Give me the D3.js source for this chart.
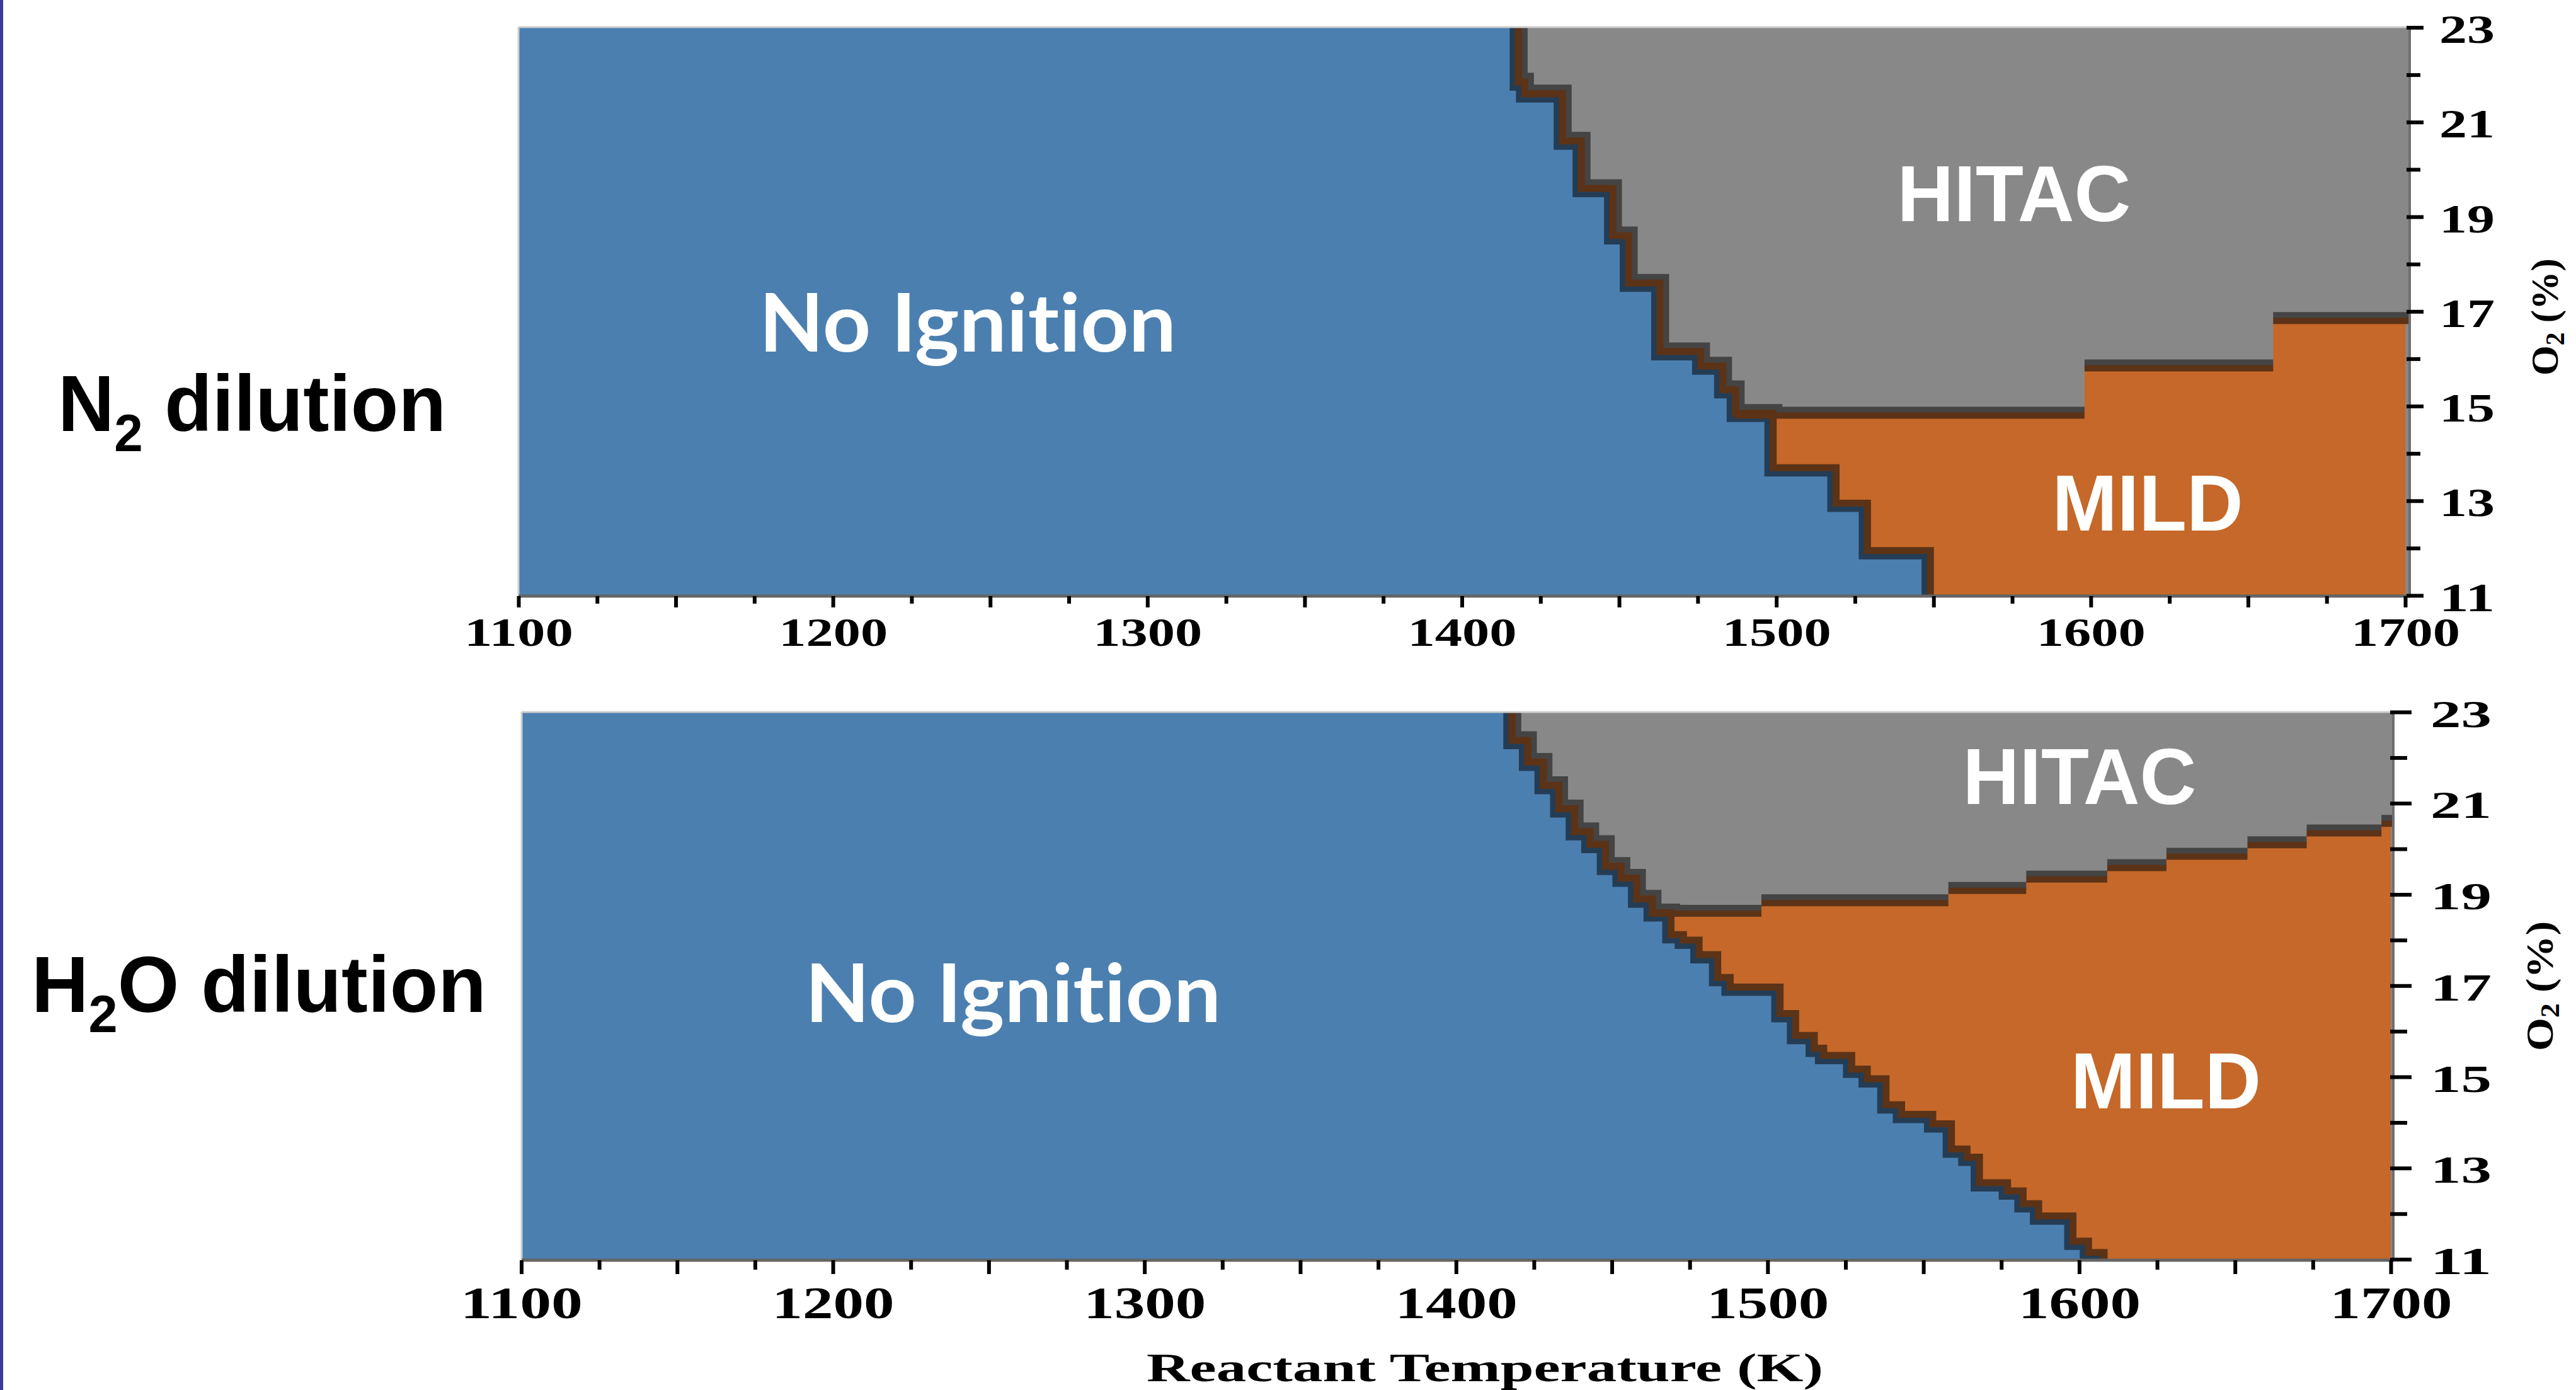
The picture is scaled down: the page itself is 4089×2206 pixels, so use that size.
<!DOCTYPE html>
<html>
<head>
<meta charset="utf-8">
<script src="https://cdn.jsdelivr.net/npm/d3@7"></script>
<style>
body { margin: 0; background: #fff; }
text { font-variant-ligatures: none; }
</style>
</head>
<body>
<script>
// axis labels
var tempLabels = [1100, 1200, 1300, 1400, 1500, 1600, 1700];
var o2Labels = [11, 13, 15, 17, 19, 21, 23];

// N2 dilution : edge of the No Ignition zone (T of each vertical step, O2 level after the step)
var n2EdgeTemps  = [1418, 1420, 1432, 1438, 1448, 1453, 1463, 1476, 1483, 1487, 1499, 1519, 1529, 1549];
var n2EdgeLevels = [21.85, 21.6, 20.6, 19.6, 18.6, 17.6, 16.15, 15.85, 15.35, 14.85, 13.7, 12.95, 11.95];
// N2 dilution : HITAC / MILD border
var n2HitacTemps  = [1487, 1598, 1658, 1700];
var n2HitacLevels = [14.8, 15.8, 16.8];

// H2O dilution
var h2oEdgeTemps  = [1418, 1423, 1428, 1433, 1438, 1443, 1448, 1453, 1458, 1463, 1469, 1473, 1478, 1484, 1488,
                     1504, 1509, 1515, 1518, 1527, 1532, 1538, 1543, 1553, 1559, 1564, 1568, 1577, 1582, 1587,
                     1598, 1603, 1608];
var h2oEdgeLevels = [22.38, 21.9, 21.39, 20.88, 20.38, 20.1, 19.62, 19.36, 18.9, 18.6, 18.12, 18.0, 17.68, 17.18, 16.97,
                     16.39, 15.91, 15.63, 15.47, 15.17, 14.96, 14.39, 14.18, 13.97, 13.42, 13.24, 12.68, 12.5, 12.22, 11.95,
                     11.4, 11.15];
var h2oHitacTemps  = [1463, 1498, 1558, 1583, 1609, 1628, 1654, 1673, 1697, 1700];
var h2oHitacLevels = [18.58, 18.81, 19.08, 19.33, 19.58, 19.83, 20.08, 20.34, 20.55];

var BLUE = "#4b7fb0", GREY = "#888888", ORANGE = "#c56829",
    BROWN = "#5c3317", SHADE = "#444444", NAVY = "#243d55";

var svg = d3.select("body").append("svg").attr("width", 4089).attr("height", 2206);
svg.append("rect").attr("width", 4089).attr("height", 2206).attr("fill", "#fff");
// thin slide border on the left
svg.append("rect").attr("x", 0).attr("y", 0).attr("width", 5).attr("height", 2206).attr("fill", "#3b3b9d");

function stairPoints(temps, levels) {
  var pts = [[temps[0], 23.6]];
  for (var i = 0; i < levels.length; i++) {
    pts.push([temps[i], levels[i]]);
    pts.push([temps[i + 1], levels[i]]);
  }
  pts.push([temps[temps.length - 1], 10.4]);
  return pts;
}

function drawPanel(p) {
  var x = d3.scaleLinear().domain([1100, 1700]).range([p.xl, p.xr]);
  var y = d3.scaleLinear().domain([11, 23]).range([p.yb, p.yt]);
  var line = d3.line().x(function(d){ return x(d[0]); }).y(function(d){ return y(d[1]); });

  svg.append("clipPath").attr("id", "clip" + p.id)
    .append("rect").attr("x", p.rx0).attr("y", p.ry0)
    .attr("width", p.rx1 - p.rx0).attr("height", p.ry1 - p.ry0);

  var area = svg.append("g").attr("clip-path", "url(#clip" + p.id + ")");
  area.append("rect").attr("x", p.rx0).attr("y", p.ry0)
    .attr("width", p.rx1 - p.rx0).attr("height", p.ry1 - p.ry0).attr("fill", GREY);

  var edge = stairPoints(p.edgeTemps, p.edgeLevels);

  // dark shade on the HITAC side of the ignition edge
  area.append("path").attr("d", line(edge)).attr("fill", "none")
    .attr("stroke", SHADE).attr("stroke-width", 11).attr("transform", "translate(9,-9)");

  // MILD zone
  var orange = [[1100, 11], [1100, p.hitacLevels[0]]];
  p.hitacLevels.forEach(function(lv, i){
    orange.push([p.hitacTemps[i + 1], lv]);
    if (i + 1 < p.hitacLevels.length) orange.push([p.hitacTemps[i + 1], p.hitacLevels[i + 1]]);
  });
  orange.push([1700, 10]);
  area.append("path").attr("d", line(orange) + "Z").attr("fill", ORANGE);

  var segs = p.hitacLevels.map(function(lv, i){ return [[p.hitacTemps[i], lv], [p.hitacTemps[i + 1] + (i + 1 == p.hitacLevels.length ? 5 : 0), lv]]; });
  area.selectAll("path.shade").data(segs).enter().append("path")
    .attr("class", "shade").attr("d", line).attr("fill", "none")
    .attr("stroke", SHADE).attr("stroke-width", 10).attr("transform", "translate(0,-9)");

  // No Ignition zone
  var blue = edge.concat([[1090, 10.4], [1090, 23.6]]);
  area.append("path").attr("d", line(blue) + "Z").attr("fill", BLUE);
  area.append("path").attr("d", line(edge)).attr("fill", "none")
    .attr("stroke", NAVY).attr("stroke-width", 10).attr("transform", "translate(-9,9)");

  // brown border lines
  area.append("path").attr("d", line(edge)).attr("fill", "none")
    .attr("stroke", BROWN).attr("stroke-width", 11);
  area.selectAll("path.border").data(segs).enter().append("path")
    .attr("class", "border").attr("d", line).attr("fill", "none")
    .attr("stroke", BROWN).attr("stroke-width", 10);

  // frame
  svg.append("line").attr("x1", p.rx0).attr("x2", p.rx1).attr("y1", p.ry0).attr("y2", p.ry0)
    .attr("stroke", "#cfcfcf").attr("stroke-width", 3);
  svg.append("line").attr("x1", p.rx0).attr("x2", p.rx0).attr("y1", p.ry0).attr("y2", p.ry1)
    .attr("stroke", "#cfcfcf").attr("stroke-width", 3);
  svg.append("line").attr("x1", p.rx0).attr("x2", p.rx1 + 2).attr("y1", p.ry1 + 1).attr("y2", p.ry1 + 1)
    .attr("stroke", "#656565").attr("stroke-width", 5);
  svg.append("line").attr("x1", p.rx1 + 1).attr("x2", p.rx1 + 1).attr("y1", p.ry0).attr("y2", p.ry1 + 3)
    .attr("stroke", "#6e6e6e").attr("stroke-width", 4);

  // x axis
  var xAxis = d3.axisBottom(x).tickValues(d3.range(1100, 1701, 25)).tickSizeOuter(0)
    .tickFormat(function(d){ return tempLabels.indexOf(d) >= 0 ? d : ""; });
  var gx = svg.append("g").attr("transform", "translate(0," + (p.ry1 + 1) + ")").call(xAxis);
  gx.select(".domain").remove();
  gx.selectAll(".tick line").attr("stroke", "#000").attr("stroke-width", 6)
    .attr("y2", function(d){ return d % 50 == 0 ? p.xTickLong : p.xTickShort; });
  gx.selectAll(".tick text").attr("fill", "#000").attr("font-family", "Liberation Serif, serif")
    .attr("font-weight", "bold").attr("font-size", p.xLabelSize)
    .attr("y", p.xLabelY).attr("dy", 0)
    .attr("textLength", function(d){ return tempLabels.indexOf(d) >= 0 ? p.xLabelW : null; })
    .attr("lengthAdjust", "spacingAndGlyphs");

  // y axis on the right
  var yAxis = d3.axisRight(y).tickValues(d3.range(11, 23.5, 1)).tickSizeOuter(0)
    .tickFormat(function(d){ return o2Labels.indexOf(d) >= 0 ? d : ""; });
  var gy = svg.append("g").attr("transform", "translate(" + (p.rx1 + 1) + ",0)").call(yAxis);
  gy.select(".domain").remove();
  gy.selectAll(".tick line").attr("stroke", "#000").attr("stroke-width", 6).attr("x1", -5)
    .attr("x2", function(d){ return d % 2 == 1 ? p.yTickLong : p.yTickShort; });
  gy.selectAll(".tick text").attr("fill", "#000").attr("font-family", "Liberation Serif, serif")
    .attr("font-weight", "bold").attr("font-size", p.yLabelSize)
    .attr("x", p.yLabelX).attr("dy", 0).attr("y", p.yLabelDy)
    .attr("textLength", function(d){ return o2Labels.indexOf(d) >= 0 ? p.yLabelW : null; })
    .attr("lengthAdjust", "spacingAndGlyphs");

  // O2 (%) title
  var t = svg.append("text")
    .attr("transform", "translate(" + p.o2x + "," + p.o2y + ") rotate(-90)")
    .attr("text-anchor", "middle").attr("font-family", "Liberation Serif, serif")
    .attr("font-weight", "bold").attr("font-size", 62).attr("fill", "#000")
    .attr("textLength", p.o2len).attr("lengthAdjust", "spacingAndGlyphs");
  t.append("tspan").text("O");
  t.append("tspan").text("2").attr("font-size", 42).attr("dy", 10);
  t.append("tspan").text(" (%)").attr("dy", -10);

  // zone names
  svg.selectAll("text.zone" + p.id).data(p.zones).enter().append("text")
    .attr("class", "zone" + p.id)
    .attr("x", function(d){ return d.x; }).attr("y", function(d){ return d.y; })
    .attr("text-anchor", "middle").attr("fill", "#fff")
    .attr("font-family", function(d){ return d.font; }).attr("font-weight", "bold")
    .attr("font-size", function(d){ return d.size; })
    .attr("textLength", function(d){ return d.w; }).attr("lengthAdjust", "spacingAndGlyphs")
    .text(function(d){ return d.text; });

  // dilution label on the left
  var lab = svg.append("text").attr("x", p.leftX).attr("y", p.leftY)
    .attr("font-family", "Liberation Sans, Arial, sans-serif").attr("font-weight", "bold")
    .attr("font-size", 127).attr("fill", "#000")
    .attr("textLength", p.leftW).attr("lengthAdjust", "spacingAndGlyphs");
  lab.append("tspan").text(p.leftA);
  lab.append("tspan").text("2").attr("font-size", 84).attr("dy", 32);
  lab.append("tspan").text(p.leftB).attr("dy", -32);
}

drawPanel({
  id: "n2", xl: 823, xr: 3818, yb: 945, yt: 43.5,
  rx0: 823, rx1: 3824, ry0: 43, ry1: 945,
  edgeTemps: n2EdgeTemps, edgeLevels: n2EdgeLevels,
  hitacTemps: n2HitacTemps, hitacLevels: n2HitacLevels,
  xTickLong: 18, xTickShort: 12, xLabelSize: 64, xLabelY: 79, xLabelW: 173,
  yTickLong: 22, yTickShort: 17, yLabelSize: 64, yLabelX: 47, yLabelDy: 24, yLabelW: 88,
  o2x: 4060, o2y: 503, o2len: 186,
  zones: [
    {text: "No Ignition", x: 1536, y: 558, size: 128, w: 662, font: "Lato, Liberation Sans, sans-serif"},
    {text: "HITAC", x: 3197, y: 351, size: 126, w: 371, font: "Liberation Sans, Arial, sans-serif"},
    {text: "MILD", x: 3409, y: 842, size: 126, w: 303, font: "Liberation Sans, Arial, sans-serif"}
  ],
  leftX: 92, leftY: 684, leftW: 616, leftA: "N", leftB: " dilution"
});

drawPanel({
  id: "h2o", xl: 827.5, xr: 3795, yb: 1998.6, yt: 1130,
  rx0: 828, rx1: 3798, ry0: 1130, ry1: 1999,
  edgeTemps: h2oEdgeTemps, edgeLevels: h2oEdgeLevels,
  hitacTemps: h2oHitacTemps, hitacLevels: h2oHitacLevels,
  xTickLong: 22, xTickShort: 15, xLabelSize: 72, xLabelY: 92, xLabelW: 194,
  yTickLong: 29, yTickShort: 22, yLabelSize: 62, yLabelX: 59, yLabelDy: 23, yLabelW: 97,
  o2x: 4052, o2y: 1565, o2len: 206,
  zones: [
    {text: "No Ignition", x: 1608, y: 1622, size: 128, w: 660, font: "Lato, Liberation Sans, sans-serif"},
    {text: "HITAC", x: 3301, y: 1276, size: 126, w: 371, font: "Liberation Sans, Arial, sans-serif"},
    {text: "MILD", x: 3438, y: 1759, size: 126, w: 302, font: "Liberation Sans, Arial, sans-serif"}
  ],
  leftX: 50, leftY: 1606, leftW: 722, leftA: "H", leftB: "O dilution"
});

svg.append("text").text("Reactant Temperature (K)")
  .attr("x", 2357).attr("y", 2192).attr("text-anchor", "middle")
  .attr("font-family", "Liberation Serif, serif").attr("font-weight", "bold")
  .attr("font-size", 64).attr("fill", "#000")
  .attr("textLength", 1074).attr("lengthAdjust", "spacingAndGlyphs");
</script>
</body>
</html>
